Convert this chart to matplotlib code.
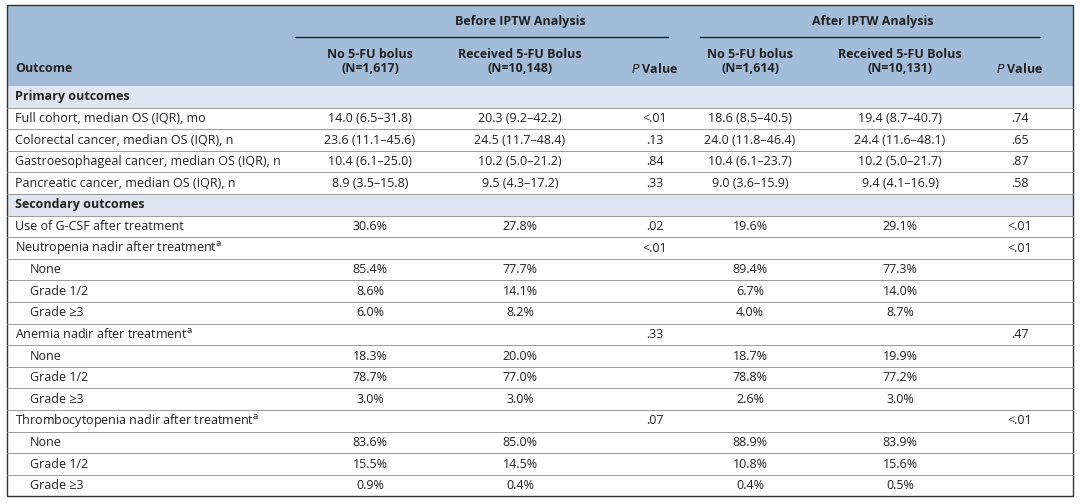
import matplotlib
matplotlib.use("Agg")
import matplotlib.pyplot as plt
from matplotlib.patches import Rectangle

plt.rcParams["font.family"] = ["Open Sans", "DejaVu Sans"]

outcomes = [
    ("Primary outcomes", "section", 0),
    ("Full cohort, median OS (IQR), mo", "row", 0),
    ("Colorectal cancer, median OS (IQR), n", "row", 0),
    ("Gastroesophageal cancer, median OS (IQR), n", "row", 0),
    ("Pancreatic cancer, median OS (IQR), n", "row", 0),
    ("Secondary outcomes", "section", 0),
    ("Use of G-CSF after treatment", "row", 0),
    ("Neutropenia nadir after treatment$^{\\mathrm{a}}$", "row", 0),
    ("None", "row", 1),
    ("Grade 1/2", "row", 1),
    ("Grade \u22653", "row", 1),
    ("Anemia nadir after treatment$^{\\mathrm{a}}$", "row", 0),
    ("None", "row", 1),
    ("Grade 1/2", "row", 1),
    ("Grade \u22653", "row", 1),
    ("Thrombocytopenia nadir after treatment$^{\\mathrm{a}}$", "row", 0),
    ("None", "row", 1),
    ("Grade 1/2", "row", 1),
    ("Grade \u22653", "row", 1),
]
before_no = ["", "14.0 (6.5\u201331.8)", "23.6 (11.1\u201345.6)", "10.4 (6.1\u201325.0)", "8.9 (3.5\u201315.8)",
             "", "30.6%", "", "85.4%", "8.6%", "6.0%", "", "18.3%", "78.7%", "3.0%", "", "83.6%", "15.5%", "0.9%"]
before_yes = ["", "20.3 (9.2\u201342.2)", "24.5 (11.7\u201348.4)", "10.2 (5.0\u201321.2)", "9.5 (4.3\u201317.2)",
              "", "27.8%", "", "77.7%", "14.1%", "8.2%", "", "20.0%", "77.0%", "3.0%", "", "85.0%", "14.5%", "0.4%"]
before_p = ["", "<.01", ".13", ".84", ".33", "", ".02", "<.01", "", "", "", ".33", "", "", "", ".07", "", "", ""]
after_no = ["", "18.6 (8.5\u201340.5)", "24.0 (11.8\u201346.4)", "10.4 (6.1\u201323.7)", "9.0 (3.6\u201315.9)",
            "", "19.6%", "", "89.4%", "6.7%", "4.0%", "", "18.7%", "78.8%", "2.6%", "", "88.9%", "10.8%", "0.4%"]
after_yes = ["", "19.4 (8.7\u201340.7)", "24.4 (11.6\u201348.1)", "10.2 (5.0\u201321.7)", "9.4 (4.1\u201316.9)",
             "", "29.1%", "", "77.3%", "14.0%", "8.7%", "", "19.9%", "77.2%", "3.0%", "", "83.9%", "15.6%", "0.5%"]
after_p = ["", ".74", ".65", ".87", ".58", "", "<.01", "<.01", "", "", "", ".47", "", "", "", "<.01", "", "", ""]

col_x = [370, 520, 655, 750, 900, 1020]
header_bg = "#a3bcd9"
section_bg = "#dde6f1"
text_c = "#222222"

fig = plt.figure(figsize=(10.8, 5.04), dpi=100)
ax = fig.add_axes([0, 0, 1, 1])
ax.set_xlim(0, 1080)
ax.set_ylim(504, 0)
ax.axis("off")

left, right, top = 7, 1073, 5
head_bottom = 86
row_h = 21.6
bottom = head_bottom + row_h * len(outcomes)

ax.add_patch(Rectangle((left, top), right - left, head_bottom - top, color=header_bg, lw=0))

fs = 9
# group headers
ax.text(520, 22, "Before IPTW Analysis", ha="center", va="center", fontsize=fs, weight="bold", color=text_c)
ax.text(873, 22, "After IPTW Analysis", ha="center", va="center", fontsize=fs, weight="bold", color=text_c)
ax.plot([295, 668], [37, 37], color="#222222", lw=1)
ax.plot([700, 1040], [37, 37], color="#222222", lw=1)
ax.text(15, 69, "Outcome", ha="left", va="center", fontsize=fs, weight="bold", color=text_c)
sub = ["No 5-FU bolus\n(N=1,617)", "Received 5-FU Bolus\n(N=10,148)", None,
       "No 5-FU bolus\n(N=1,614)", "Received 5-FU Bolus\n(N=10,131)", None]
for x, s in zip(col_x, sub):
    if s is None:
        ax.text(x, 69, "$\\mathit{P}$ Value", ha="center", va="center", fontsize=fs, weight="bold", color=text_c)
    else:
        ax.text(x, 61, s, ha="center", va="center", fontsize=fs, weight="bold", color=text_c, linespacing=1.1)

columns = [before_no, before_yes, before_p, after_no, after_yes, after_p]
for i, (label, kind, indent) in enumerate(outcomes):
    y0 = head_bottom + i * row_h
    yc = y0 + row_h / 2
    if kind == "section":
        ax.add_patch(Rectangle((left, y0), right - left, row_h, color=section_bg, lw=0))
        ax.text(15, yc, label, ha="left", va="center", fontsize=fs, weight="bold", color=text_c)
    else:
        ax.text(15 + 15 * indent, yc, label, ha="left", va="center", fontsize=fs, color=text_c)
        for x, col in zip(col_x, columns):
            ax.text(x, yc, col[i], ha="center", va="center", fontsize=fs, color=text_c)
    if i > 0:
        ax.plot([left, right], [y0, y0], color="#8a8a8a", lw=0.6)

ax.add_patch(Rectangle((left, top), right - left, bottom - top, fill=False, ec="#333333", lw=1))

fig.savefig("out.png", dpi=100)
